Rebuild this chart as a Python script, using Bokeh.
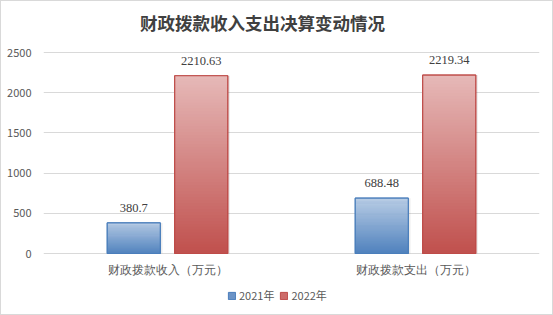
from bokeh.plotting import figure
from bokeh.models import (ColumnDataSource, FactorRange, Range1d, Label, LabelSet,
                          Legend, LegendItem, FixedTicker)
from bokeh.transform import dodge
from bokeh.embed import file_html
from bokeh.resources import INLINE

categories = ["财政拨款收入（万元）", "财政拨款支出（万元）"]
series_names = ["2021年", "2022年"]
values_2021 = [380.7, 688.48]
values_2022 = [2210.63, 2219.34]
label_2021 = ["380.7", "688.48"]
label_2022 = ["2210.63", "2219.34"]
y_ticks = [0, 500, 1000, 1500, 2000, 2500]
title_text = "财政拨款收入支出决算变动情况"

FONT = "Noto Sans CJK SC"
W, H = 553, 315

# layout in pixels: value axis from y=252 (0) to y=51 (2500); frame spans 0..312
AX_TOP, AX_BOT, FR_BOT = 51, 252, 312
ppu = (AX_BOT - AX_TOP) / y_ticks[-1]
y_end = y_ticks[-1] + AX_TOP / ppu
y_start = -(FR_BOT - AX_BOT) / ppu

p = figure(x_range=FactorRange(*categories, range_padding=0),
           y_range=Range1d(y_start, y_end), width=W, height=H,
           output_backend="svg", toolbar_location=None,
           min_border_left=42, min_border_right=15,
           min_border_top=0, min_border_bottom=H - FR_BOT)
p.styles = {"border": "1px solid #d9d9d9", "box-sizing": "border-box"}
p.outline_line_color = None
p.background_fill_color = "white"
p.border_fill_color = "white"

# axes
p.xaxis.visible = False
p.yaxis.ticker = FixedTicker(ticks=y_ticks)
p.yaxis.axis_line_color = None
p.yaxis.major_tick_line_color = None
p.yaxis.minor_tick_line_color = None
p.yaxis.major_label_text_font = FONT
p.yaxis.major_label_text_font_size = "11px"
p.yaxis.major_label_text_color = "#595959"
p.yaxis.major_label_standoff = 6
p.xgrid.grid_line_color = None
p.ygrid.grid_line_color = "#d9d9d9"
p.ygrid.ticker = FixedTicker(ticks=y_ticks)

def hex2rgb(h):
    h = h.lstrip("#")
    return tuple(int(h[i:i + 2], 16) for i in (0, 2, 4))

def mix(c1, c2, t):
    a, b = hex2rgb(c1), hex2rgb(c2)
    return "#%02x%02x%02x" % tuple(round(a[i] + (b[i] - a[i]) * t) for i in range(3))

OFF = 0.136
BW = 0.214
N = 60
series = [
    (values_2021, label_2021, -OFF, "#4f81bd", "#b9cde5", "#4a7ebb", "#6b93c6"),
    (values_2022, label_2022, OFF, "#c0504d", "#e6b9b8", "#be4b48", "#cd6b69"),
]

legend_items = []
for (vals, labs, off, c_bot, c_top, c_line, c_leg), name in zip(series, series_names):
    src = ColumnDataSource(dict(cat=categories, top=vals, lab=labs))
    shadow = ColumnDataSource(dict(cat=categories, top=vals))
    p.vbar(x=dodge("cat", off + 0.009, range=p.x_range), top="top", bottom=0, width=BW,
           source=shadow, fill_color="#000000", fill_alpha=0.07, line_color=None)
    # solid base bar (also serves as legend glyph), covered by the gradient
    base_r = p.vbar(x=dodge("cat", off, range=p.x_range), top="top", bottom=0, width=BW,
                    source=src, fill_color=c_leg, line_color=c_line, line_width=1)
    cat_col, bot_col, top_col, col_col = [], [], [], []
    for c, v in zip(categories, vals):
        for k in range(N):
            cat_col.append(c)
            bot_col.append(v * k / N)
            top_col.append(min(v, v * (k + 1.6) / N))
            col_col.append(mix(c_bot, c_top, (k + 0.5) / N))
    gsrc = ColumnDataSource(dict(cat=cat_col, bottom=bot_col, top=top_col, color=col_col))
    p.vbar(x=dodge("cat", off, range=p.x_range), top="top", bottom="bottom", width=BW,
           source=gsrc, fill_color="color", line_color=None)
    p.vbar(x=dodge("cat", off, range=p.x_range), top="top", bottom=0, width=BW,
           source=src, fill_color=None, line_color=c_line, line_width=1.2)
    p.add_layout(LabelSet(x=dodge("cat", off, range=p.x_range), y="top", text="lab",
                          source=src, y_offset=15, text_align="center",
                          text_baseline="middle", text_font=FONT,
                          text_font_size="12.5px", text_color="#404040"))
    legend_items.append(LegendItem(label=name, renderers=[base_r]))

# category labels under the baseline
csrc = ColumnDataSource(dict(cat=categories, base=[0] * len(categories)))
p.add_layout(LabelSet(x="cat", y="base", text="cat", source=csrc, y_offset=-16,
                      text_align="center", text_baseline="middle", text_font=FONT,
                      text_font_size="12px", text_color="#595959"))

legend = Legend(items=legend_items, orientation="horizontal", location=(184, 10),
                padding=0, margin=0, spacing=5, glyph_width=9, glyph_height=9,
                label_standoff=3, label_text_font=FONT, label_text_font_size="11px",
                label_text_color="#595959", border_line_color=None,
                background_fill_alpha=0, label_height=12)
p.add_layout(legend, "center")

p.add_layout(Label(x=261 - 42, y=FR_BOT - 21, x_units="screen", y_units="screen",
                   text=title_text, text_align="center", text_baseline="middle",
                   text_font=FONT, text_font_size="17.5px", text_font_style="bold",
                   text_color="#404040"))

open("out.html", "w").write(file_html(p, INLINE))
